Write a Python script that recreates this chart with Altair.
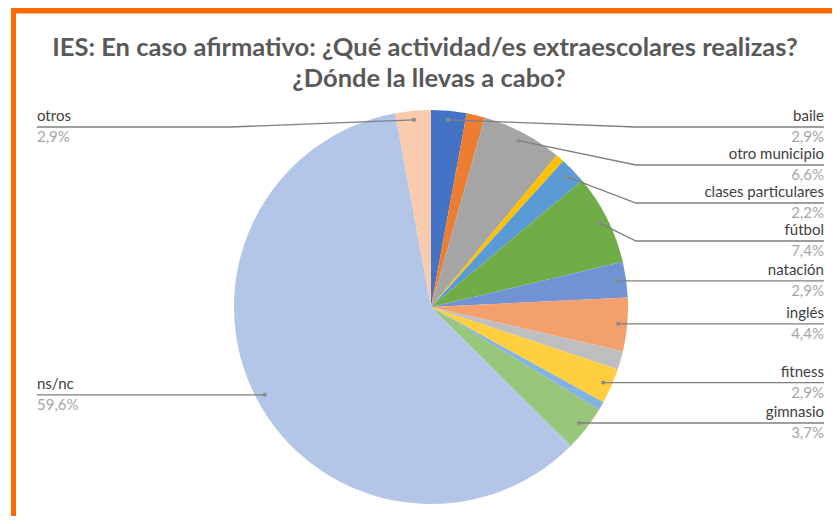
import math
import altair as alt
import pandas as pd

# ---- data ----
categories = ["baile", "sin etiqueta 1", "otro municipio", "sin etiqueta 2",
              "clases particulares", "fútbol", "natación", "inglés",
              "sin etiqueta 3", "fitness", "sin etiqueta 4", "gimnasio",
              "ns/nc", "otros"]
values = [2.9, 1.5, 6.6, 0.7, 2.2, 7.4, 2.9, 4.4, 1.5, 2.9, 0.7, 3.7, 59.6, 2.9]
shown = [True, False, True, False, True, True, True, True, False, True, False, True, True, True]
colors = ["#4472C4", "#ED7D31", "#A5A5A5", "#FFC000", "#5B9BD5", "#70AD47",
          "#7193D3", "#F3A06C", "#BFBFBF", "#FFCF40", "#83B3E0", "#98C67A",
          "#B4C6E7", "#F8CBAD"]
title_lines = ["IES: En caso afirmativo: ¿Qué actividad/es extraescolares realizas?",
               "¿Dónde la llevas a cabo?"]

# ---- layout ----
W, H = 824, 508
CX, CY, R = 423, 299, 197
RDOT = 188
X_END_R, X_END_L = 816, 29
X_ELB_R, X_ELB_L = CX + R + 8, CX - R - 4
MIN_Y, GAP = 119, 38
FONT = "Lato"

total = sum(values)
pie_df = pd.DataFrame({"cat": categories, "val": values, "idx": list(range(len(values)))})

# label geometry derived from the slice angles
rows = []
cum = 0.0
for c, v, s in zip(categories, values, shown):
    mid = (cum + v / 2) / total * 2 * math.pi
    cum += v
    if not s:
        continue
    dx, dy = RDOT * math.sin(mid), -RDOT * math.cos(mid)
    rows.append({"cat": c, "val": v, "ang": mid, "dx": CX + dx, "dy": CY + dy,
                 "side": "R" if mid < math.pi else "L"})

right = sorted([r for r in rows if r["side"] == "R"], key=lambda r: r["dy"])
left = sorted([r for r in rows if r["side"] == "L"], key=lambda r: r["dy"])
for group in (right, left):
    prev = MIN_Y - GAP
    for r in group:
        r["ly"] = max(r["dy"], prev + GAP)
        prev = r["ly"]

line_pts, dots, names, pcts = [], [], [], []
for r in right + left:
    xe = X_ELB_R if r["side"] == "R" else X_ELB_L
    xend = X_END_R if r["side"] == "R" else X_END_L
    for k, (x, y) in enumerate([(r["dx"], r["dy"]), (xe, r["ly"]), (xend, r["ly"])]):
        line_pts.append({"cat": r["cat"], "o": k, "x": x, "y": y})
    dots.append({"x": r["dx"], "y": r["dy"]})
    names.append({"x": xend, "y": r["ly"] - 6, "t": r["cat"], "side": r["side"]})
    pcts.append({"x": xend, "y": r["ly"] + 15,
                 "t": f"{r['val']:.1f}%".replace(".", ","), "side": r["side"]})

lines_df = pd.DataFrame(line_pts)
dots_df = pd.DataFrame(dots)
names_df = pd.DataFrame(names)
pcts_df = pd.DataFrame(pcts)

X = lambda f: alt.X(f, type="quantitative", scale=None, axis=None)
Y = lambda f: alt.Y(f, type="quantitative", scale=None, axis=None)

pie = alt.Chart(pie_df).mark_arc(radius=R, stroke=None).encode(
    theta=alt.Theta("val:Q", stack=True),
    color=alt.Color("cat:N", scale=alt.Scale(domain=categories, range=colors), legend=None),
    order=alt.Order("idx:Q"),
    x=alt.value(CX), y=alt.value(CY),
)

leaders = alt.Chart(lines_df).mark_line(color="#7F7F7F", strokeWidth=1.3).encode(
    x=X("x"), y=Y("y"), detail="cat:N", order="o:Q")

dot_layer = alt.Chart(dots_df).mark_circle(color="#8C8C8C", size=18, opacity=1).encode(
    x=X("x"), y=Y("y"))

def text_layer(df, color, align):
    return alt.Chart(df).transform_filter(
        alt.datum.side == ("R" if align == "right" else "L")
    ).mark_text(font=FONT, fontSize=15, color=color, align=align, baseline="alphabetic").encode(
        x=X("x"), y=Y("y"), text="t:N")

title_df = pd.DataFrame({"t": title_lines, "y": [48, 79], "x": [417, 421]})
title = alt.Chart(title_df).mark_text(font=FONT, fontSize=25.5, fontWeight="bold",
                                      color="#595959", align="center",
                                      baseline="alphabetic").encode(
    x=X("x"), y=Y("y"), text="t:N")

border_df = pd.DataFrame({"a": [0]})
top_border = alt.Chart(border_df).mark_rule(color="#FF6A00", strokeWidth=6).encode(
    x=alt.value(3), x2=alt.value(W), y=alt.value(2.5))
left_border = alt.Chart(border_df).mark_rule(color="#FF6A00", strokeWidth=5).encode(
    x=alt.value(5.5), y=alt.value(0), y2=alt.value(H))

chart = alt.layer(
    pie, leaders, dot_layer,
    text_layer(names_df, "#404040", "right"), text_layer(pcts_df, "#A6A6A6", "right"),
    text_layer(names_df, "#404040", "left"), text_layer(pcts_df, "#A6A6A6", "left"),
    title, top_border, left_border,
).properties(
    width=W, height=H, padding=0, background="white",
    autosize=alt.AutoSizeParams(type="none"),
).configure_view(stroke=None)

chart.save("out.html", embed_options={"renderer": "svg", "actions": False})
